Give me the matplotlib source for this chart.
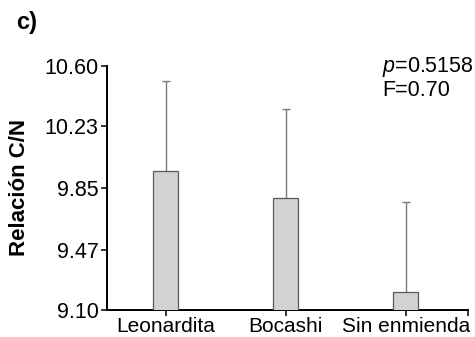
import matplotlib
matplotlib.use("Agg")
import matplotlib.pyplot as plt
import numpy as np

plt.rcParams['font.family'] = ['Liberation Sans', 'DejaVu Sans']
plt.rcParams['mathtext.fontset'] = 'custom'
plt.rcParams['mathtext.it'] = 'Liberation Sans:italic'
plt.rcParams['mathtext.rm'] = 'Liberation Sans'

categories = ["Leonardita", "Bocashi", "Sin enmienda"]
means = [9.955, 9.789, 9.213]
errors_up = [0.555, 0.549, 0.551]
ytick_vals = [9.10, 9.47, 9.85, 10.23, 10.60]
ytick_labels = ["9.10", "9.47", "9.85", "10.23", "10.60"]

fig = plt.figure(figsize=(4.75, 3.37), dpi=100)
ax = fig.add_axes([107/475, 1-310/337, (468-107)/475, (310-66)/337])

x = np.arange(len(categories))
ax.bar(x, means, width=0.21, bottom=0, color='#d2d2d2', edgecolor='#5a5a5a',
       linewidth=0.9, zorder=3)
eb = ax.errorbar(x, means, yerr=[np.zeros(len(means)), errors_up], fmt='none',
                 ecolor='#7a7a7a', elinewidth=1.0, capsize=2.6, capthick=1.0, zorder=2)
caplines = eb[1]
if len(caplines) > 0:
    caplines[0].set_visible(False)

ax.set_ylim(9.10, 10.60)
ax.set_xlim(-0.49, 2.52)
ax.set_yticks(ytick_vals)
ax.set_yticklabels(ytick_labels, fontsize=15.5)
ax.set_xticks(x)
ax.set_xticklabels(categories, fontsize=15)
ax.set_xticks([2.52], minor=True)
ax.tick_params(axis='both', which='both', direction='out', length=4, width=1.1, pad=2)
ax.tick_params(axis='x', which='both', length=4, width=1.1, pad=1)

for s in ['top', 'right']:
    ax.spines[s].set_visible(False)
for s in ['left', 'bottom']:
    ax.spines[s].set_linewidth(1.4)

ax.set_ylabel("Relación C/N", fontsize=16, fontweight='bold')
ax.yaxis.set_label_coords(-0.213, 0.5)

fig.text(382/475, 1-67/337, "$\\it{p}$=0.5158", fontsize=15.5, va='center', ha='left')
fig.text(382/475, 1-91/337, "F=0.70", fontsize=15.5, va='center', ha='left')
fig.text(16/475, 1-23/337, "c)", fontsize=17, fontweight='bold', va='center', ha='left')

fig.savefig("out.png", dpi=100)
